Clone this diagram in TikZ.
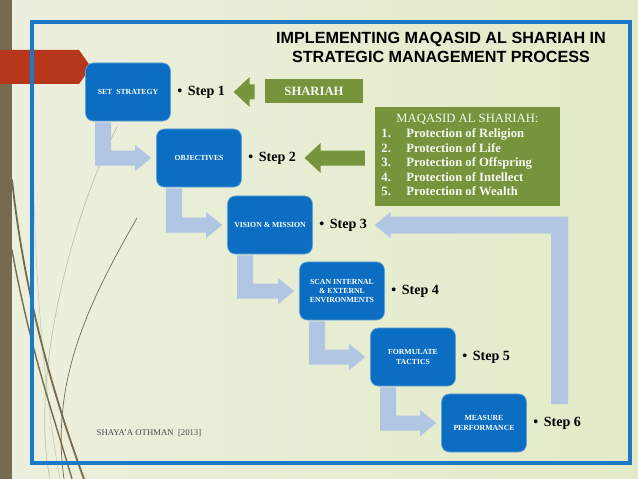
\documentclass[tikz,border=0pt]{standalone}
\usepackage{fontspec}
\setmainfont{Liberation Serif}
\newfontfamily\titlefont{Liberation Sans}
\usetikzlibrary{calc,positioning}
\usepackage{xcolor}

\definecolor{paper}{RGB}{236,239,222}
\definecolor{paperright}{RGB}{226,235,200}
\definecolor{wispbrown}{RGB}{118,107,80}
\definecolor{tabred}{RGB}{183,55,28}
\definecolor{frameblue}{RGB}{30,120,200}
\definecolor{boxblue}{RGB}{12,110,194}
\definecolor{flowblue}{RGB}{176,198,226}
\definecolor{olive}{RGB}{119,147,60}

\tikzset{
    stagebox/.style={rectangle, rounded corners=5.5pt, fill=boxblue, draw=boxblue!65!white,
        line width=0.5pt, minimum width=2.12cm, minimum height=1.45cm, inner sep=1pt,
        align=center, text=white, font={\fontsize{5.5}{6.6}\selectfont\bfseries}},
    steplabel/.style={anchor=west, inner sep=1pt, font={\fontsize{10}{12}\selectfont\bfseries}},
    flow/.style={fill=flowblue},
    greenbox/.style={fill=olive, text=white!94!olive, inner sep=2pt},
    wisp/.style={draw=wispbrown, line cap=round},
}

% L-shaped arrow from the bottom of one stage box to the next one
\newcommand{\flowstep}[2]{%
    \coordinate (fa) at ($(#1.south west)+(10,1)$);
    \coordinate (fb) at ($(fa)+(16,0)$);
    \coordinate (ft) at ($(#2.west)+(-5,0)$);
    \coordinate (fh) at ($(ft)+(-16,0)$);
    \coordinate (ftop) at ($(ft)+(0,-7.5)$);
    \coordinate (fbot) at ($(ft)+(0,7.5)$);
    \fill[flow] (fa) -- (fa |- fbot) -- (fh |- fbot) -- ($(fh)+(0,13)$) -- (ft)
        -- ($(fh)+(0,-13)$) -- (fh |- ftop) -- (fb |- ftop) -- (fb) -- cycle;
}
% green block arrow pointing at a step label
\newcommand{\pointer}[2]{%
    \coordinate (gt) at ($(#2.east)+(7,0)$);
    \coordinate (gh) at ($(gt)+(16,0)$);
    \coordinate (gs) at ($(#1.west)+(-10,0)$);
    \coordinate (ge) at (gs |- gt);
    \fill[olive] (gt) -- ($(gh)+(0,-15)$) -- ($(gh)+(0,-7.5)$) -- ($(ge)+(0,-7.5)$)
        -- ($(ge)+(0,7.5)$) -- ($(gh)+(0,7.5)$) -- ($(gh)+(0,15)$) -- cycle;
}
% feedback arrow from one step label up to another
\newcommand{\loopback}[2]{%
    \coordinate (lt) at ($(#2.east)+(6,0)$);
    \coordinate (lh) at ($(lt)+(16,0)$);
    \coordinate (ll) at ($(#1.north)+(-6,-11)$);
    \coordinate (lr) at ($(ll)+(17,0)$);
    \coordinate (ltop) at ($(lt)+(0,-8.5)$);
    \coordinate (lbot) at ($(lt)+(0,8.5)$);
    \fill[flow] (ll) -- (ll |- lbot) -- (lh |- lbot) -- ($(lh)+(0,13)$) -- (lt)
        -- ($(lh)+(0,-13)$) -- (lh |- ltop) -- (lr |- ltop) -- (lr) -- cycle;
}

\begin{document}
\begin{tikzpicture}[x=0.025cm, y=-0.025cm]
    \useasboundingbox (0,0) rectangle (638,479);

    % background
    \shade[left color=paper, middle color=white!80!paper, right color=paperright] (0,0) rectangle (638,479);
    \fill[wispbrown] (0,0) rectangle (12,479);
    \draw[wisp, line width=1.3pt] (12,180) .. controls (25,300) and (55,400) .. (84,479);
    \draw[wisp, line width=1pt] (12,250) .. controls (30,350) and (55,420) .. (72,479);
    \draw[wisp, line width=0.5pt] (137,218) .. controls (90,300) and (50,380) .. (64,479);
    \draw[wisp, line width=0.5pt, opacity=0.35] (117,127) .. controls (70,220) and (30,380) .. (50,479);
    \draw[wisp, line width=0.4pt, opacity=0.3] (34,90) .. controls (30,250) and (45,400) .. (60,479);
    \fill[tabred] (0,50) -- (79,50) -- (91,67) -- (79,84) -- (0,84) -- cycle;
    \draw[frameblue, line width=2.8pt] (32,22) rectangle (630,463);

    % title
    \node[align=center, font={\titlefont\bfseries\fontsize{11.5}{13.5}\selectfont}] (title) at (441,47)
        {IMPLEMENTING MAQASID AL SHARIAH IN\\STRATEGIC MANAGEMENT PROCESS};

    % stages
    \node[stagebox] (set) at (128,92) {SET\ \ STRATEGY};
    \node[stagebox] (obj) at (199,158) {OBJECTIVES};
    \node[stagebox] (vis) at (270,225) {VISION \& MISSION};
    \node[stagebox] (scan) at (342,291) {SCAN INTERNAL\\\& EXTERNL\\ENVIRONMENTS};
    \node[stagebox] (form) at (413,357) {FORMULATE\\TACTICS};
    \node[stagebox] (meas) at (484,423) {MEASURE\\PERFORMANCE};

    % step labels
    \node[steplabel, right=0.12cm of set] (s1) {\textbullet\hspace{4pt}Step 1};
    \node[steplabel, right=0.12cm of obj] (s2) {\textbullet\hspace{4pt}Step 2};
    \node[steplabel, right=0.12cm of vis] (s3) {\textbullet\hspace{4pt}Step 3};
    \node[steplabel, right=0.12cm of scan] (s4) {\textbullet\hspace{4pt}Step 4};
    \node[steplabel, right=0.12cm of form] (s5) {\textbullet\hspace{4pt}Step 5};
    \node[steplabel, right=0.12cm of meas] (s6) {\textbullet\hspace{4pt}Step 6};

    % flow between stages
    \flowstep{set}{obj}
    \flowstep{obj}{vis}
    \flowstep{vis}{scan}
    \flowstep{scan}{form}
    \flowstep{form}{meas}
    \loopback{s6}{s3}

    % shariah inputs
    \node[greenbox, minimum width=2.45cm, minimum height=0.6cm, font={\fontsize{9}{10}\selectfont\bfseries}]
        (shariah) at (314,91) {SHARIAH};
    \node[greenbox, minimum width=4.62cm, minimum height=2.47cm, font={\fontsize{9}{10.4}\selectfont}]
        (maqasid) at (467.5,156.5) {%
        \begin{tabular}{@{}p{0.62cm}@{}p{3.68cm}@{}}
            \multicolumn{2}{@{}c@{}}{MAQASID AL SHARIAH:}\\
            \textbf{1.} & \textbf{Protection of Religion}\\
            \textbf{2.} & \textbf{Protection of Life}\\
            \textbf{3.} & \textbf{Protection of Offspring}\\
            \textbf{4.} & \textbf{Protection of Intellect}\\
            \textbf{5.} & \textbf{Protection of Wealth}
        \end{tabular}};
    \pointer{shariah}{s1}
    \pointer{maqasid}{s2}

    % source
    \node[text=black!72, font={\fontsize{6.2}{7}\selectfont}] (cite) at (149,433) {SHAYA'A OTHMAN\ \ [2013]};
\end{tikzpicture}
\end{document}
